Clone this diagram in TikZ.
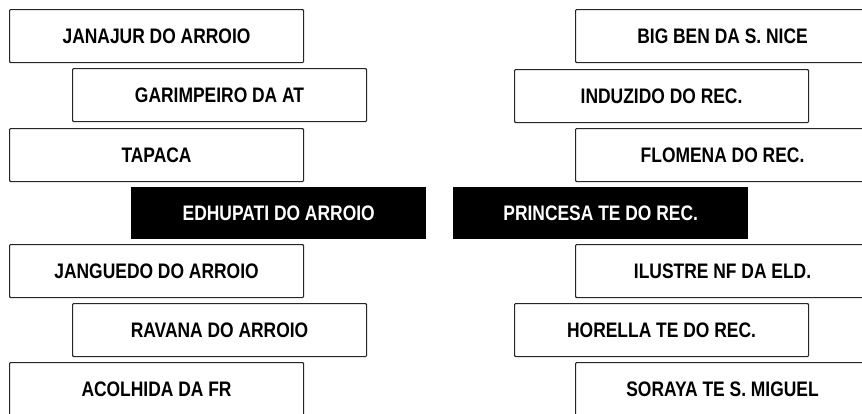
\documentclass[tikz,border=0pt]{standalone}
\usepackage{fontspec}
\setmainfont{Liberation Sans}[FakeStretch=0.83]
\begin{document}
\begin{tikzpicture}[x=1pt,y=-1pt,
  lbox/.style={draw=black!85,line width=1.1pt,rounded corners=1pt,fill=white,
    minimum width=294pt,minimum height=53pt,inner sep=0pt,anchor=north west,
    font=\fontsize{21}{21}\selectfont\bfseries},
  dbox/.style={fill=black,text=white,minimum width=295pt,minimum height=52pt,
    inner sep=0pt,anchor=north west,font=\fontsize{21}{21}\selectfont\bfseries}]
\useasboundingbox (0,0) rectangle (862,413);
\clip (0,0) rectangle (862,413);
\node[lbox] (l1) at (9,9) {JANAJUR DO ARROIO};
\node[lbox] (l2) at (72,68) {GARIMPEIRO DA AT};
\node[lbox] (l3) at (9,128) {TAPACA};
\node[dbox] (l4) at (131,187) {EDHUPATI DO ARROIO};
\node[lbox] (l5) at (9,244) {JANGUEDO DO ARROIO};
\node[lbox] (l6) at (72,303) {RAVANA DO ARROIO};
\node[lbox] (l7) at (9,362) {ACOLHIDA DA FR};
\node[lbox] (r1) at (575,9) {BIG BEN DA S. NICE};
\node[lbox] (r2) at (514,69) {INDUZIDO DO REC.};
\node[lbox] (r3) at (575,128) {FLOMENA DO REC.};
\node[dbox] (r4) at (453,187) {PRINCESA TE DO REC.};
\node[lbox] (r5) at (575,244) {ILUSTRE NF DA ELD.};
\node[lbox] (r6) at (514,303) {HORELLA TE DO REC.};
\node[lbox] (r7) at (575,362) {SORAYA TE S. MIGUEL};
\end{tikzpicture}
\end{document}
